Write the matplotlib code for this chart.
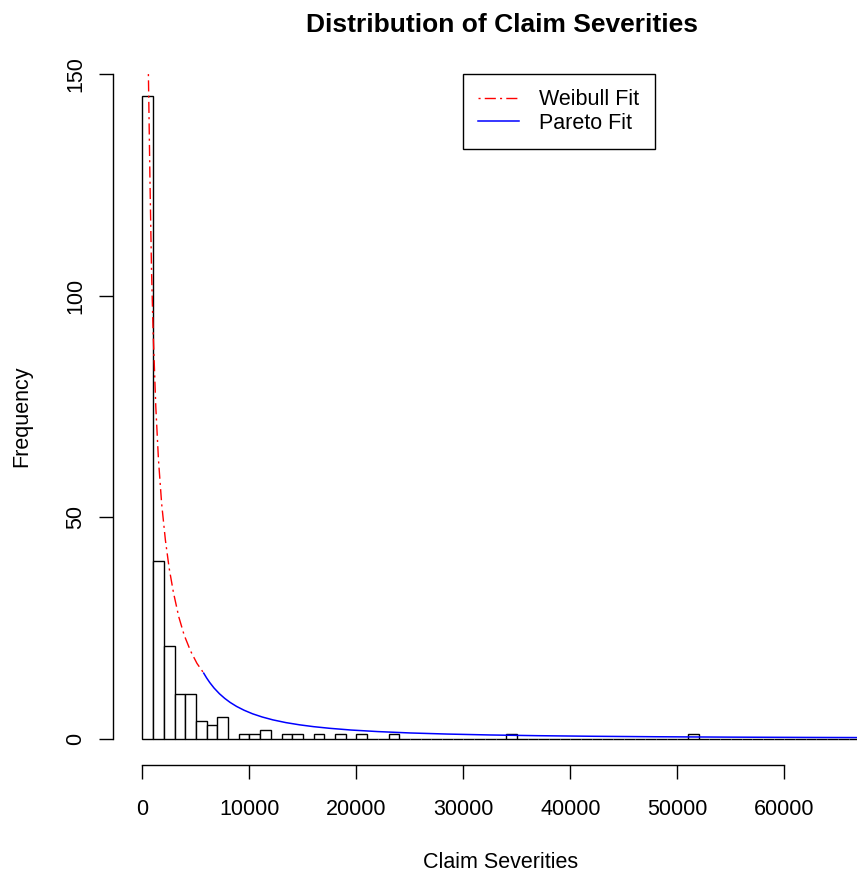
import numpy as np
import matplotlib.pyplot as plt

plt.rcParams['font.family'] = ['Liberation Sans', 'DejaVu Sans']

# histogram of claim severities, bins of 1000 from 0 to 68000
bin_width = 1000
bin_counts = [145, 40, 21, 10, 10, 4, 3, 5, 0, 1,   # 0 - 10k
              1, 2, 0, 1, 1, 0, 1, 0, 1, 0,         # 10k - 20k
              1, 0, 0, 1, 0, 0, 0, 0, 0, 0,         # 20k - 30k
              0, 0, 0, 0, 1, 0, 0, 0, 0, 0,         # 30k - 40k
              0, 0, 0, 0, 0, 0, 0, 0, 0, 0,         # 40k - 50k
              0, 1, 0, 0, 0, 0, 0, 0, 0, 0,         # 50k - 60k
              0, 0, 0, 0, 0, 0, 0, 0]               # 60k - 68k
bin_starts = np.arange(len(bin_counts)) * bin_width

# fitted curves (scaled to counts)
# weibull body below the splice point, pareto tail above it
weibull_x = [560, 700, 850, 1000, 1250, 1500, 1800, 2150, 2500, 2900,
             3400, 3900, 4500, 5100, 5730]
weibull_y = [150, 127, 106, 92, 75, 63, 53, 44.8, 38.5, 33,
             27.5, 23.4, 19.8, 17, 14.8]
pareto_x = [5730, 6000, 6300, 6700, 7200, 7700, 8200, 8800, 9500, 10300,
            11200, 12200, 13400, 14700, 16000, 17500, 19500, 22000, 25000, 28500,
            32500, 37000, 42000, 48000, 55000, 62000, 70000]
pareto_y = [14.8, 13.72, 12.66, 11.43, 10.15, 9.09, 8.19, 7.29, 6.43, 5.62,
            4.90, 4.25, 3.64, 3.13, 2.72, 2.35, 1.96, 1.61, 1.30, 1.05,
            0.845, 0.682, 0.553, 0.444, 0.355, 0.291, 0.238]

x_ticks = [0, 10000, 20000, 30000, 40000, 50000, 60000]
y_ticks = [0, 50, 100, 150]

W, H = 857, 875
fig = plt.figure(figsize=(W / 100, H / 100), dpi=100)
# plot region in pixels (R style, runs past the right edge)
left, right, top, bottom = 113.3, 899.1, 47.5, 765.3
ax = fig.add_axes([left / W, 1 - bottom / H, (right - left) / W, (bottom - top) / H])

ax.bar(bin_starts, bin_counts, width=bin_width, align='edge',
       facecolor='white', edgecolor='black', linewidth=1.0)
ax.plot(weibull_x, weibull_y, color='red', linewidth=1.0,
        linestyle=(0, (1.5, 3.0, 8.0, 3.0)))
ax.plot(pareto_x, pareto_y, color='blue', linewidth=1.1)

ax.set_xlim(-2720, 70720)
ax.set_ylim(-6, 156)

for s in ['top', 'right']:
    ax.spines[s].set_visible(False)
ax.spines['bottom'].set_bounds(0, 60000)
ax.spines['left'].set_bounds(0, 150)
for s in ['bottom', 'left']:
    ax.spines[s].set_linewidth(1.0)

ax.set_xticks(x_ticks)
ax.set_xticklabels([str(t) for t in x_ticks])
ax.set_yticks(y_ticks)
ax.set_yticklabels([str(t) for t in y_ticks], rotation=90, va='center')
ax.tick_params(axis='both', length=10, width=1.0, labelsize=15.5)
ax.tick_params(axis='x', pad=14)
ax.tick_params(axis='y', pad=9.4)

leg = ax.legend(['Weibull Fit', 'Pareto Fit'], loc='upper left',
                bbox_to_anchor=(30000, 150), bbox_transform=ax.transData,
                borderaxespad=0, fontsize=15.5, fancybox=False,
                edgecolor='black', framealpha=1, borderpad=0.7,
                labelspacing=0.12, handlelength=1.86, handletextpad=0.97)
leg.get_frame().set_linewidth(1.0)

fig.text(502.5 / W, 1 - 31.7 / H, 'Distribution of Claim Severities',
         ha='center', va='baseline', fontsize=19, fontweight='bold')
fig.text(500.5 / W, 1 - 868.3 / H, 'Claim Severities',
         ha='center', va='baseline', fontsize=15.5)
fig.text(27.3 / W, 1 - 416 / H, 'Frequency', rotation=90, rotation_mode='anchor',
         ha='center', va='baseline', fontsize=15.5)

plt.savefig('out.png', dpi=100)
